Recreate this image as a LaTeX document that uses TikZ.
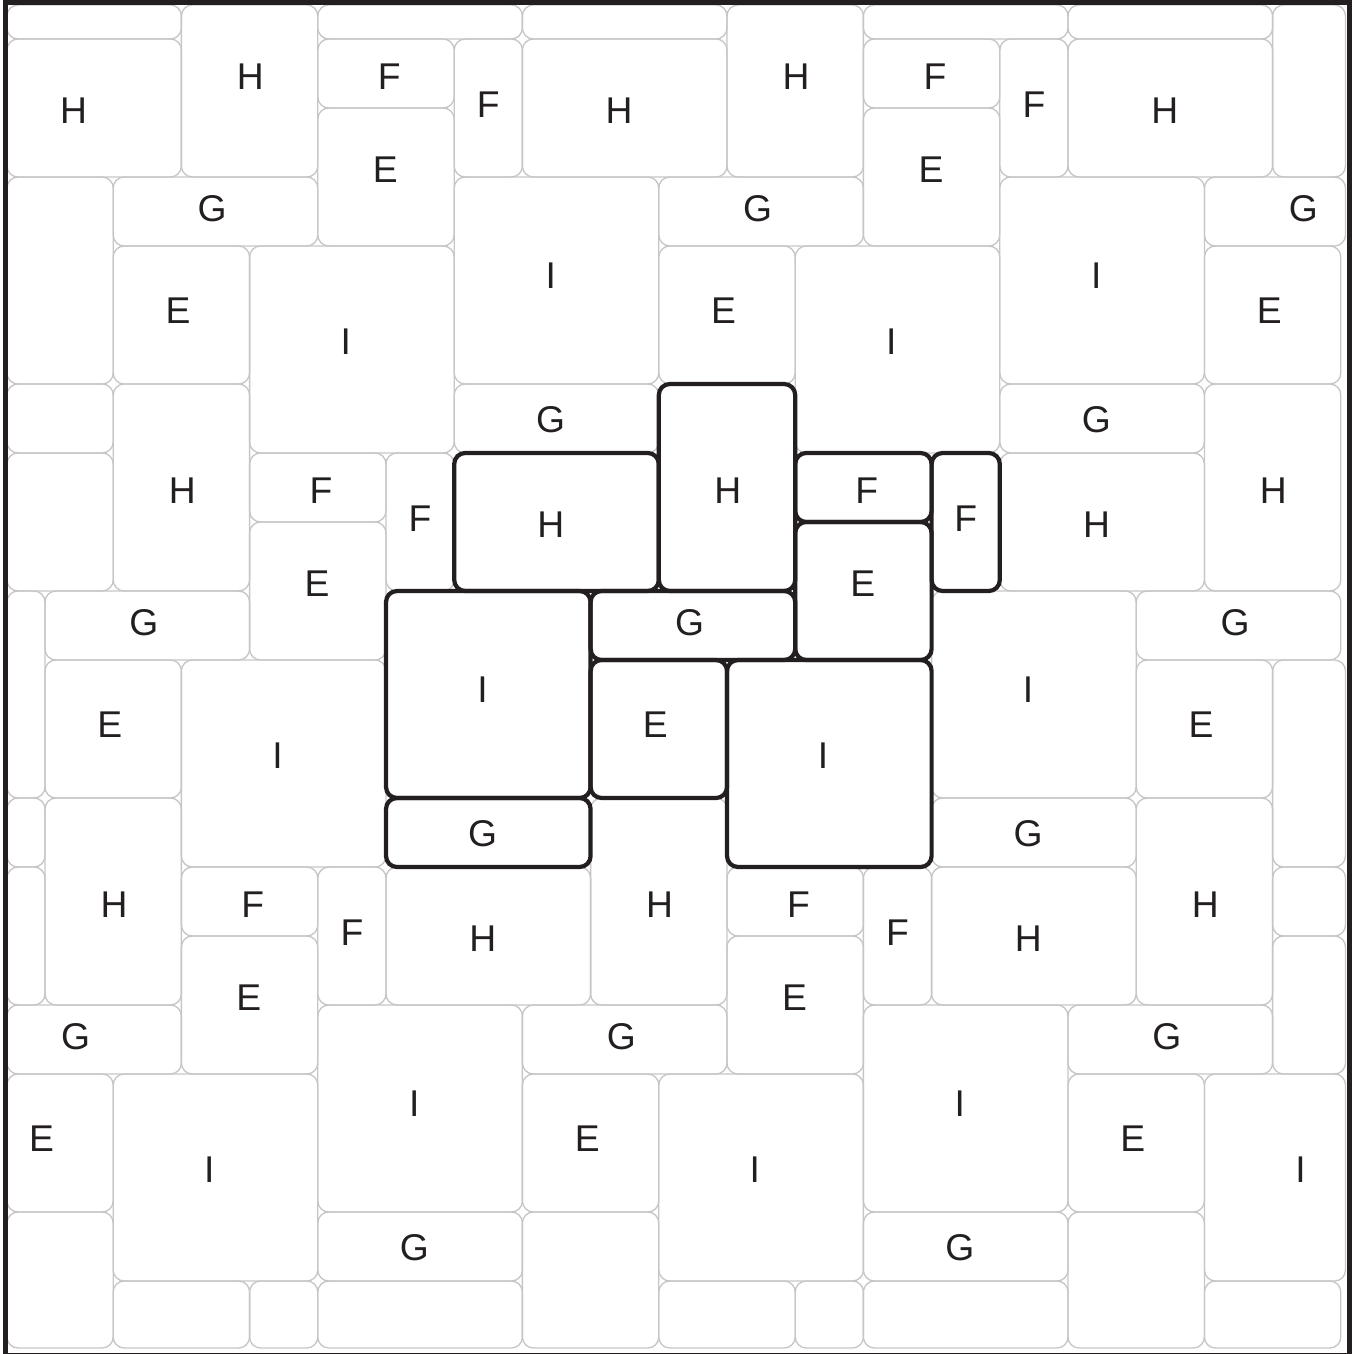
\documentclass[tikz,border=0pt]{standalone}
\usepackage{fontspec}
\setmainfont{Liberation Sans}
\definecolor{Ink}{HTML}{231F20}
\definecolor{Seam}{HTML}{C6C6C6}

\newcommand{\unittiles}{1/1/3/2/2.418/2.045/H, 4/0/2/3/5.012/1.542/H, 6/1/2/1/7.048/1.542/F,
  8/1/1/2/8.5/1.954/F, 6/2/2/2/6.99/2.894/E, 0/3/3/3/1.415/4.435/I, 3/3/3/1/4.45/3.465/G,
  3/4/2/2/3.95/4.943/E, 5/4/3/3/6.409/5.38/I, 0/6/3/1/1.415/6.519/G}

\begin{document}
\begin{tikzpicture}[
      x=0.682cm, y=-0.69cm,
      seam/.style={draw=Seam, line width=0.38pt, rounded corners=1.1mm},
      unit/.style={draw=Ink, line width=1.2pt, rounded corners=1.1mm},
      tag/.style={inner sep=0pt, text=Ink, font=\fontsize{10.6}{12}\selectfont}]

    \useasboundingbox (-3.86cm,-9.70cm) rectangle (9.65cm,3.84cm);
    \coordinate (frameSW) at (-3.805cm,-9.715cm);
    \coordinate (frameNE) at (9.63cm,3.81cm);

    \begin{scope}
      \clip (frameSW) rectangle (frameNE);
      \foreach \m in {-2,...,2}
        \foreach \n in {-2,...,2}
          \foreach \c/\r/\w/\h/\lx/\ly/\t [count=\k] in \unittiles {
            \pgfmathsetmacro\tilexa{max(\c+8*\m-\n,-5.557)}
            \pgfmathsetmacro\tilexb{min(\c+8*\m-\n+\w,14.069)}
            \pgfmathsetmacro\tileya{max(\r+6*\n,-5.493)}
            \pgfmathsetmacro\tileyb{min(\r+6*\n+\h,13.971)}
            \pgfmathtruncatemacro\tilekeep{(\tilexb-\tilexa>0.15)&&(\tileyb-\tileya>0.15)}
            \pgfmathtruncatemacro\tilelabel{(\ly+6*\n>-5.2)&&(\r+6*\n+\h<=13)&&(\lx+8*\m-\n>-5.5)&&(\lx+8*\m-\n<13.9)}
            \ifnum\tilekeep=1
              \draw[seam] (\tilexa,\tileya) rectangle (\tilexb,\tileyb);
            \fi
            \ifnum\tilelabel=1
              \node[tag] (tag\m\n\k) at ({\lx+8*\m-\n},{\ly+6*\n}) {\t};
            \fi
          }
      \foreach \c/\r/\w/\h/\lx/\ly/\t in \unittiles
        \draw[unit] (\c,\r) rectangle ++(\w,\h);
    \end{scope}

    \draw[Ink, line width=1.42pt] (frameSW) rectangle (frameNE);
  \end{tikzpicture}
\end{document}
